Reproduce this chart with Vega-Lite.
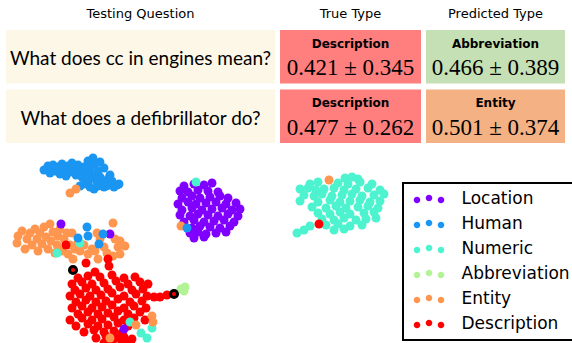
{
  "$schema": "https://vega.github.io/schema/vega-lite/v6.json",
  "padding": {"left": 6, "top": 8, "right": 0, "bottom": 0},
  "background": "white",
  "config": {"view": {"stroke": null}},
  "spacing": 8,
  "resolve": {"scale": {"color": "independent", "fill": "independent"}, "legend": {"color": "independent", "fill": "independent"}},
  "datasets": {
    "table": [
      {"row": "1", "question": "What does cc in engines mean?", "true_type": "Description", "true_score": "0.421 ± 0.345", "pred_type": "Abbreviation", "pred_score": "0.466 ± 0.389"},
      {"row": "2", "question": "What does a defibrillator do?", "true_type": "Description", "true_score": "0.477 ± 0.262", "pred_type": "Entity", "pred_score": "0.501 ± 0.374"}
    ],
    "tests": [
      {"x": 73, "y": 269, "type": "Description"},
      {"x": 174, "y": 293, "type": "Description"}
    ],
    "pts": [
      {"x":78,"y":277,"type":"Description"},{"x":88,"y":275,"type":"Description"},{"x":100,"y":276,"type":"Description"},{"x":112,"y":274,"type":"Description"},{"x":124,"y":277,"type":"Description"},{"x":135,"y":276,"type":"Description"},
      {"x":72,"y":283,"type":"Description"},{"x":82,"y":281,"type":"Description"},{"x":92,"y":283,"type":"Description"},{"x":104,"y":282,"type":"Description"},{"x":116,"y":280,"type":"Description"},{"x":128,"y":283,"type":"Description"},{"x":140,"y":281,"type":"Description"},{"x":148,"y":283,"type":"Description"},
      {"x":75,"y":289,"type":"Description"},{"x":86,"y":287,"type":"Description"},{"x":96,"y":289,"type":"Description"},{"x":108,"y":288,"type":"Description"},{"x":120,"y":286,"type":"Description"},{"x":132,"y":289,"type":"Description"},{"x":143,"y":288,"type":"Description"},
      {"x":70,"y":295,"type":"Description"},{"x":80,"y":293,"type":"Description"},{"x":90,"y":295,"type":"Description"},{"x":101,"y":294,"type":"Description"},{"x":112,"y":292,"type":"Description"},{"x":124,"y":295,"type":"Description"},{"x":136,"y":293,"type":"Description"},{"x":147,"y":295,"type":"Description"},{"x":154,"y":296,"type":"Description"},{"x":160,"y":296,"type":"Description"},{"x":167,"y":294,"type":"Description"},
      {"x":76,"y":301,"type":"Description"},{"x":86,"y":299,"type":"Description"},{"x":96,"y":301,"type":"Description"},{"x":106,"y":300,"type":"Description"},{"x":118,"y":298,"type":"Description"},{"x":130,"y":301,"type":"Description"},{"x":142,"y":300,"type":"Description"},
      {"x":72,"y":307,"type":"Description"},{"x":82,"y":305,"type":"Description"},{"x":92,"y":307,"type":"Description"},{"x":102,"y":306,"type":"Description"},{"x":112,"y":304,"type":"Description"},{"x":124,"y":307,"type":"Description"},{"x":134,"y":305,"type":"Description"},{"x":146,"y":307,"type":"Description"},
      {"x":78,"y":313,"type":"Description"},{"x":88,"y":311,"type":"Description"},{"x":98,"y":313,"type":"Description"},{"x":108,"y":312,"type":"Description"},{"x":118,"y":310,"type":"Description"},{"x":128,"y":313,"type":"Description"},{"x":140,"y":311,"type":"Description"},
      {"x":70,"y":319,"type":"Description"},{"x":82,"y":317,"type":"Description"},{"x":92,"y":319,"type":"Description"},{"x":102,"y":318,"type":"Description"},{"x":114,"y":316,"type":"Description"},{"x":124,"y":319,"type":"Description"},{"x":134,"y":317,"type":"Description"},{"x":145,"y":319,"type":"Description"},
      {"x":76,"y":325,"type":"Description"},{"x":88,"y":323,"type":"Description"},{"x":98,"y":325,"type":"Description"},{"x":108,"y":324,"type":"Description"},{"x":118,"y":322,"type":"Description"},{"x":128,"y":325,"type":"Description"},
      {"x":84,"y":331,"type":"Description"},{"x":94,"y":329,"type":"Description"},{"x":104,"y":331,"type":"Description"},{"x":114,"y":330,"type":"Description"},{"x":122,"y":332,"type":"Description"},
      {"x":96,"y":337,"type":"Description"},{"x":106,"y":335,"type":"Description"},{"x":116,"y":337,"type":"Description"},{"x":124,"y":336,"type":"Description"},{"x":132,"y":338,"type":"Description"},
      {"x":104,"y":342,"type":"Description"},{"x":112,"y":341,"type":"Description"},{"x":122,"y":342,"type":"Description"},{"x":130,"y":341,"type":"Description"},

      {"x":184,"y":185,"type":"Location"},{"x":194,"y":183,"type":"Location"},{"x":204,"y":184,"type":"Location"},{"x":212,"y":182,"type":"Location"},
      {"x":180,"y":190,"type":"Location"},{"x":188,"y":191,"type":"Location"},{"x":198,"y":189,"type":"Location"},{"x":208,"y":190,"type":"Location"},{"x":218,"y":191,"type":"Location"},
      {"x":182,"y":197,"type":"Location"},{"x":192,"y":195,"type":"Location"},{"x":200,"y":197,"type":"Location"},{"x":210,"y":196,"type":"Location"},{"x":220,"y":195,"type":"Location"},{"x":228,"y":197,"type":"Location"},
      {"x":178,"y":203,"type":"Location"},{"x":188,"y":201,"type":"Location"},{"x":196,"y":203,"type":"Location"},{"x":206,"y":202,"type":"Location"},{"x":216,"y":201,"type":"Location"},{"x":226,"y":203,"type":"Location"},{"x":236,"y":202,"type":"Location"},
      {"x":182,"y":209,"type":"Location"},{"x":192,"y":207,"type":"Location"},{"x":202,"y":209,"type":"Location"},{"x":212,"y":208,"type":"Location"},{"x":222,"y":207,"type":"Location"},{"x":232,"y":209,"type":"Location"},{"x":240,"y":208,"type":"Location"},
      {"x":180,"y":214,"type":"Location"},{"x":190,"y":215,"type":"Location"},{"x":198,"y":213,"type":"Location"},{"x":208,"y":214,"type":"Location"},{"x":218,"y":215,"type":"Location"},{"x":228,"y":213,"type":"Location"},{"x":238,"y":215,"type":"Location"},
      {"x":184,"y":221,"type":"Location"},{"x":194,"y":219,"type":"Location"},{"x":204,"y":221,"type":"Location"},{"x":214,"y":220,"type":"Location"},{"x":224,"y":219,"type":"Location"},{"x":234,"y":221,"type":"Location"},
      {"x":192,"y":227,"type":"Location"},{"x":200,"y":225,"type":"Location"},{"x":210,"y":226,"type":"Location"},{"x":220,"y":227,"type":"Location"},{"x":230,"y":225,"type":"Location"},
      {"x":190,"y":232,"type":"Location"},{"x":198,"y":231,"type":"Location"},{"x":206,"y":233,"type":"Location"},{"x":216,"y":232,"type":"Location"},{"x":226,"y":231,"type":"Location"},
      {"x":194,"y":237,"type":"Location"},{"x":204,"y":236,"type":"Location"},

      {"x":44,"y":169,"type":"Human"},{"x":48,"y":165,"type":"Human"},{"x":50,"y":172,"type":"Human"},{"x":53,"y":164,"type":"Human"},{"x":55,"y":170,"type":"Human"},{"x":58,"y":166,"type":"Human"},{"x":60,"y":173,"type":"Human"},{"x":62,"y":163,"type":"Human"},{"x":64,"y":169,"type":"Human"},{"x":66,"y":175,"type":"Human"},{"x":68,"y":165,"type":"Human"},{"x":70,"y":171,"type":"Human"},{"x":72,"y":162,"type":"Human"},{"x":74,"y":168,"type":"Human"},{"x":76,"y":174,"type":"Human"},{"x":78,"y":164,"type":"Human"},{"x":80,"y":170,"type":"Human"},{"x":82,"y":176,"type":"Human"},{"x":84,"y":166,"type":"Human"},{"x":86,"y":172,"type":"Human"},{"x":88,"y":160,"type":"Human"},{"x":90,"y":167,"type":"Human"},{"x":93,"y":157,"type":"Human"},{"x":95,"y":163,"type":"Human"},{"x":92,"y":174,"type":"Human"},{"x":96,"y":179,"type":"Human"},{"x":98,"y":170,"type":"Human"},{"x":100,"y":176,"type":"Human"},{"x":102,"y":182,"type":"Human"},{"x":104,"y":167,"type":"Human"},{"x":106,"y":185,"type":"Human"},{"x":108,"y":178,"type":"Human"},{"x":110,"y":184,"type":"Human"},{"x":112,"y":180,"type":"Human"},{"x":114,"y":186,"type":"Human"},{"x":117,"y":184,"type":"Human"},{"x":119,"y":183,"type":"Human"},{"x":104,"y":186,"type":"Human"},{"x":98,"y":185,"type":"Human"},{"x":88,"y":180,"type":"Human"},{"x":84,"y":183,"type":"Human"},{"x":94,"y":188,"type":"Human"},{"x":80,"y":185,"type":"Human"},{"x":100,"y":161,"type":"Human"},{"x":90,"y":186,"type":"Human"},{"x":110,"y":174,"type":"Human"},

      {"x":345,"y":177,"type":"Numeric"},{"x":352,"y":176,"type":"Numeric"},{"x":358,"y":178,"type":"Numeric"},
      {"x":310,"y":183,"type":"Numeric"},{"x":318,"y":181,"type":"Numeric"},{"x":338,"y":182,"type":"Numeric"},{"x":348,"y":183,"type":"Numeric"},{"x":360,"y":181,"type":"Numeric"},{"x":372,"y":183,"type":"Numeric"},
      {"x":300,"y":188,"type":"Numeric"},{"x":308,"y":187,"type":"Numeric"},{"x":316,"y":189,"type":"Numeric"},{"x":324,"y":188,"type":"Numeric"},{"x":334,"y":187,"type":"Numeric"},{"x":344,"y":189,"type":"Numeric"},{"x":356,"y":188,"type":"Numeric"},{"x":368,"y":187,"type":"Numeric"},{"x":380,"y":189,"type":"Numeric"},
      {"x":304,"y":194,"type":"Numeric"},{"x":314,"y":195,"type":"Numeric"},{"x":322,"y":193,"type":"Numeric"},{"x":332,"y":195,"type":"Numeric"},{"x":342,"y":194,"type":"Numeric"},{"x":352,"y":193,"type":"Numeric"},{"x":362,"y":195,"type":"Numeric"},{"x":374,"y":194,"type":"Numeric"},{"x":384,"y":193,"type":"Numeric"},
      {"x":300,"y":200,"type":"Numeric"},{"x":318,"y":201,"type":"Numeric"},{"x":330,"y":199,"type":"Numeric"},{"x":340,"y":201,"type":"Numeric"},{"x":350,"y":200,"type":"Numeric"},{"x":360,"y":199,"type":"Numeric"},{"x":370,"y":201,"type":"Numeric"},{"x":380,"y":200,"type":"Numeric"},
      {"x":312,"y":206,"type":"Numeric"},{"x":326,"y":207,"type":"Numeric"},{"x":336,"y":205,"type":"Numeric"},{"x":346,"y":207,"type":"Numeric"},{"x":358,"y":206,"type":"Numeric"},{"x":368,"y":205,"type":"Numeric"},{"x":378,"y":207,"type":"Numeric"},
      {"x":318,"y":212,"type":"Numeric"},{"x":330,"y":213,"type":"Numeric"},{"x":340,"y":211,"type":"Numeric"},{"x":350,"y":213,"type":"Numeric"},{"x":364,"y":212,"type":"Numeric"},{"x":374,"y":211,"type":"Numeric"},
      {"x":322,"y":218,"type":"Numeric"},{"x":334,"y":219,"type":"Numeric"},{"x":344,"y":217,"type":"Numeric"},{"x":356,"y":219,"type":"Numeric"},{"x":366,"y":218,"type":"Numeric"},{"x":376,"y":217,"type":"Numeric"},
      {"x":310,"y":225,"type":"Numeric"},{"x":326,"y":224,"type":"Numeric"},{"x":338,"y":223,"type":"Numeric"},{"x":350,"y":225,"type":"Numeric"},{"x":362,"y":224,"type":"Numeric"},
      {"x":304,"y":229,"type":"Numeric"},{"x":334,"y":229,"type":"Numeric"},{"x":344,"y":228,"type":"Numeric"},{"x":297,"y":232,"type":"Numeric"},

      {"x":17,"y":242,"type":"Entity"},{"x":18,"y":235,"type":"Entity"},{"x":22,"y":230,"type":"Entity"},{"x":25,"y":248,"type":"Entity"},{"x":27,"y":238,"type":"Entity"},{"x":30,"y":232,"type":"Entity"},{"x":32,"y":244,"type":"Entity"},{"x":35,"y":228,"type":"Entity"},{"x":37,"y":238,"type":"Entity"},{"x":38,"y":250,"type":"Entity"},{"x":40,"y":232,"type":"Entity"},{"x":42,"y":243,"type":"Entity"},{"x":44,"y":226,"type":"Entity"},{"x":46,"y":236,"type":"Entity"},{"x":48,"y":248,"type":"Entity"},{"x":50,"y":223,"type":"Entity"},{"x":51,"y":240,"type":"Entity"},{"x":53,"y":231,"type":"Entity"},{"x":55,"y":252,"type":"Entity"},{"x":57,"y":244,"type":"Entity"},{"x":58,"y":235,"type":"Entity"},{"x":60,"y":228,"type":"Entity"},{"x":62,"y":250,"type":"Entity"},{"x":64,"y":238,"type":"Entity"},{"x":67,"y":232,"type":"Entity"},{"x":68,"y":253,"type":"Entity"},{"x":70,"y":244,"type":"Entity"},{"x":72,"y":232,"type":"Entity"},{"x":73,"y":258,"type":"Entity"},{"x":75,"y":248,"type":"Entity"},{"x":78,"y":242,"type":"Entity"},{"x":80,"y":250,"type":"Entity"},{"x":84,"y":244,"type":"Entity"},{"x":88,"y":253,"type":"Entity"},{"x":92,"y":248,"type":"Entity"},{"x":95,"y":250,"type":"Entity"},{"x":97,"y":232,"type":"Entity"},{"x":100,"y":238,"type":"Entity"},{"x":104,"y":246,"type":"Entity"},{"x":107,"y":252,"type":"Entity"},{"x":113,"y":222,"type":"Entity"},{"x":115,"y":238,"type":"Entity"},{"x":118,"y":246,"type":"Entity"},{"x":120,"y":240,"type":"Entity"},{"x":125,"y":245,"type":"Entity"},{"x":120,"y":253,"type":"Entity"},{"x":113,"y":255,"type":"Entity"},{"x":98,"y":258,"type":"Entity"},

      {"x":181,"y":288,"type":"Abbreviation"},{"x":185,"y":286,"type":"Abbreviation"},{"x":184,"y":290,"type":"Abbreviation"},

      {"x":196,"y":181,"type":"Numeric"},{"x":80,"y":242,"type":"Numeric"},{"x":57,"y":252,"type":"Numeric"},{"x":130,"y":321,"type":"Numeric"},{"x":141,"y":332,"type":"Numeric"},{"x":152,"y":327,"type":"Numeric"},{"x":147,"y":337,"type":"Numeric"},
      {"x":61,"y":223,"type":"Location"},{"x":110,"y":233,"type":"Location"},{"x":124,"y":328,"type":"Location"},
      {"x":70,"y":192,"type":"Entity"},{"x":76,"y":188,"type":"Entity"},{"x":181,"y":225,"type":"Entity"},{"x":329,"y":179,"type":"Entity"},{"x":136,"y":324,"type":"Entity"},{"x":152,"y":315,"type":"Entity"},{"x":153,"y":321,"type":"Entity"},{"x":110,"y":337,"type":"Entity"},
      {"x":87,"y":226,"type":"Human"},{"x":88,"y":235,"type":"Human"},{"x":99,"y":243,"type":"Human"},{"x":78,"y":237,"type":"Human"},{"x":103,"y":233,"type":"Human"},{"x":187,"y":227,"type":"Human"},
      {"x":66,"y":244,"type":"Description"},{"x":86,"y":262,"type":"Description"},{"x":108,"y":258,"type":"Description"},{"x":109,"y":265,"type":"Description"},{"x":95,"y":271,"type":"Description"},{"x":319,"y":223,"type":"Description"}
    ]
  },
  "vconcat": [
    {
      "spacing": 5,
      "resolve": {"scale": {"fill": "shared"}},
      "hconcat": [
        {
          "width": 269, "height": 113,
          "title": {"text": "Testing Question", "font": "DejaVu Sans", "fontSize": 13, "fontWeight": "normal", "color": "black", "baseline": "alphabetic", "offset": -1, "anchor": "middle"},
          "data": {"name": "table"},
          "layer": [
            {"mark": {"type": "rect", "color": "#fdf7e7"},
             "encoding": {"y": {"field": "row", "type": "ordinal", "axis": null, "scale": {"paddingInner": 0.1, "paddingOuter": 0}}}},
            {"mark": {"type": "text", "font": "Lato", "fontSize": 19, "baseline": "alphabetic", "dy": 8.5, "color": "black"},
             "encoding": {"y": {"field": "row", "type": "ordinal", "axis": null}, "text": {"field": "question"}}}
          ]
        },
        {
          "width": 141, "height": 113,
          "title": {"text": "True Type", "font": "DejaVu Sans", "fontSize": 13, "fontWeight": "normal", "color": "black", "baseline": "alphabetic", "offset": -1, "anchor": "middle"},
          "data": {"name": "table"},
          "layer": [
            {"mark": {"type": "rect"},
             "encoding": {"y": {"field": "row", "type": "ordinal", "axis": null, "scale": {"paddingInner": 0.1, "paddingOuter": 0}},
                          "fill": {"field": "true_type", "type": "nominal", "legend": null, "scale": {"domain": ["Description", "Abbreviation", "Entity"], "range": ["#ff7f7f", "#c5e0b4", "#f4b183"]}}}},
            {"mark": {"type": "text", "font": "DejaVu Sans", "fontWeight": "bold", "fontSize": 12, "baseline": "alphabetic", "dy": -9, "color": "black"},
             "encoding": {"y": {"field": "row", "type": "ordinal", "axis": null}, "text": {"field": "true_type"}}},
            {"mark": {"type": "text", "font": "Liberation Serif", "fontSize": 23, "baseline": "alphabetic", "dy": 18.5, "color": "black"},
             "encoding": {"y": {"field": "row", "type": "ordinal", "axis": null}, "text": {"field": "true_score"}}}
          ]
        },
        {
          "width": 139, "height": 113,
          "title": {"text": "Predicted Type", "font": "DejaVu Sans", "fontSize": 13, "fontWeight": "normal", "color": "black", "baseline": "alphabetic", "offset": -1, "anchor": "middle"},
          "data": {"name": "table"},
          "layer": [
            {"mark": {"type": "rect"},
             "encoding": {"y": {"field": "row", "type": "ordinal", "axis": null, "scale": {"paddingInner": 0.1, "paddingOuter": 0}},
                          "fill": {"field": "pred_type", "type": "nominal", "legend": null, "scale": {"domain": ["Description", "Abbreviation", "Entity"], "range": ["#ff7f7f", "#c5e0b4", "#f4b183"]}}}},
            {"mark": {"type": "text", "font": "DejaVu Sans", "fontWeight": "bold", "fontSize": 12, "baseline": "alphabetic", "dy": -9, "color": "black"},
             "encoding": {"y": {"field": "row", "type": "ordinal", "axis": null}, "text": {"field": "pred_type"}}},
            {"mark": {"type": "text", "font": "Liberation Serif", "fontSize": 23, "baseline": "alphabetic", "dy": 18.5, "color": "black"},
             "encoding": {"y": {"field": "row", "type": "ordinal", "axis": null}, "text": {"field": "pred_score"}}}
          ]
        }
      ]
    },
    {
      "width": 566, "height": 193,
      "layer": [
        {
          "data": {"name": "pts"},
          "mark": {"type": "circle", "size": 80, "opacity": 1, "clip": true},
          "encoding": {
            "x": {"field": "x", "type": "quantitative", "axis": null, "scale": {"domain": [6, 572], "nice": false, "zero": false}},
            "y": {"field": "y", "type": "quantitative", "axis": null, "scale": {"domain": [150, 343], "reverse": true, "nice": false, "zero": false}},
            "color": {"field": "type", "type": "nominal",
              "scale": {"domain": ["Location", "Human", "Numeric", "Abbreviation", "Entity", "Description"], "range": ["#8000ff", "#1a96f2", "#4df3ce", "#b3f396", "#ff964f", "#ff0000"]},
              "legend": {"title": null, "orient": "none", "legendX": 397, "legendY": 32, "strokeColor": "black", "padding": 7.5, "cornerRadius": 0,
                "symbolType": "M -1.325 0.25 A 0.825 0.825 0 1 0 0.325 0.25 A 0.825 0.825 0 1 0 -1.325 0.25 Z M 1.675 -0.25 A 0.825 0.825 0 1 0 3.325 -0.25 A 0.825 0.825 0 1 0 1.675 -0.25 Z M 4.675 0.25 A 0.825 0.825 0 1 0 6.325 0.25 A 0.825 0.825 0 1 0 4.675 0.25 Z",
                "symbolSize": 64, "symbolStrokeWidth": 0, "symbolOpacity": 1, "rowPadding": 7, "labelOffset": 34, "labelFont": "DejaVu Sans", "labelFontSize": 17, "labelColor": "black", "labelLimit": 300,
                "fillColor": "white",
                "encode": {"legend": {"update": {"strokeWidth": {"value": 2}}}}}
            }
          }
        },
        {
          "data": {"name": "tests"},
          "mark": {"type": "circle", "size": 50, "fill": "#ff0000", "stroke": "black", "strokeWidth": 3, "opacity": 1, "fillOpacity": 1},
          "encoding": {
            "x": {"field": "x", "type": "quantitative", "axis": null},
            "y": {"field": "y", "type": "quantitative", "axis": null}
          }
        }
      ]
    }
  ]
}
